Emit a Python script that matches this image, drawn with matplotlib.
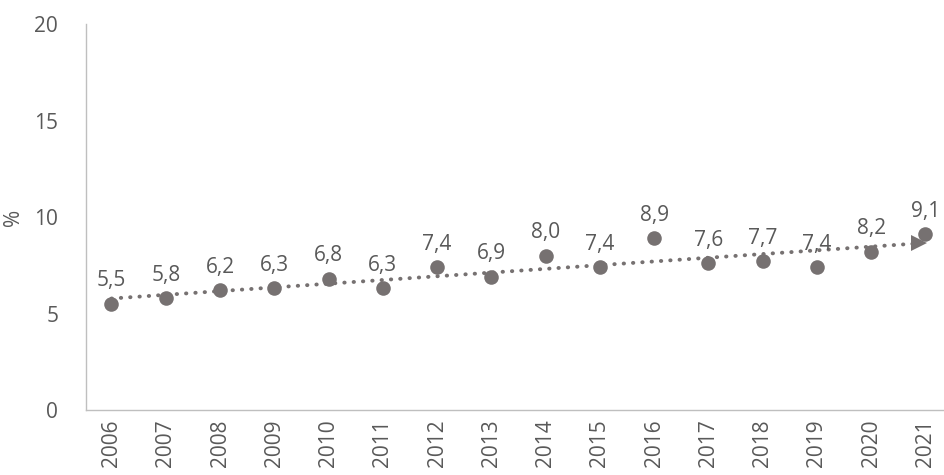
import matplotlib
matplotlib.use("Agg")
import matplotlib.pyplot as plt
import numpy as np

years = [str(y) for y in range(2006, 2022)]
values = [5.5, 5.8, 6.2, 6.3, 6.8, 6.3, 7.4, 6.9, 8.0, 7.4, 8.9, 7.6, 7.7, 7.4, 8.2, 9.1]
yticks = [0, 5, 10, 15, 20]

plt.rcParams['font.family'] = ['Open Sans', 'DejaVu Sans']
grey = "#767171"
text_c = "#595959"

fig = plt.figure(figsize=(9.45, 4.75), dpi=100)
ax = fig.add_axes([0.091, 0.137, 0.909, 0.812])

x = np.arange(len(years))
# linear trend, dotted with arrow head
k, b = np.polyfit(x, values, 1)
tx = np.array([x[0], x[-1] - 0.12])
ty = k * tx + b
ax.plot(tx, ty, color=grey, lw=2.8, ls=(0, (0.1, 2.3)), dash_capstyle="round", zorder=2)
ax.plot(tx[-1], ty[-1], marker=">", color=grey, ms=12, mew=0, zorder=2)

ax.scatter(x, values, s=110, color=grey, zorder=3, lw=0)
for xi, v in zip(x, values):
    ax.annotate(f"{v:.1f}".replace(".", ","), (xi, v), xytext=(0, 9),
                textcoords="offset points", ha="center", va="bottom",
                fontsize=15, color=text_c)

ax.set_xlim(-0.47, 15.36)
ax.set_ylim(0, 20)
ax.set_yticks(yticks)
ax.set_xticks(x)
ax.set_xticklabels(years, rotation=90, fontsize=15, color=text_c)
ax.tick_params(axis="y", labelsize=15, labelcolor=text_c, length=0, pad=20)
ax.tick_params(axis="x", length=0, pad=7)
ax.set_ylabel("%", fontsize=15, color=text_c)
ax.yaxis.set_label_coords(-0.072, 0.5)

for s in ("top", "right"):
    ax.spines[s].set_visible(False)
for s in ("left", "bottom"):
    ax.spines[s].set_color("#bfbfbf")
    ax.spines[s].set_linewidth(1)

fig.savefig("out.png")
